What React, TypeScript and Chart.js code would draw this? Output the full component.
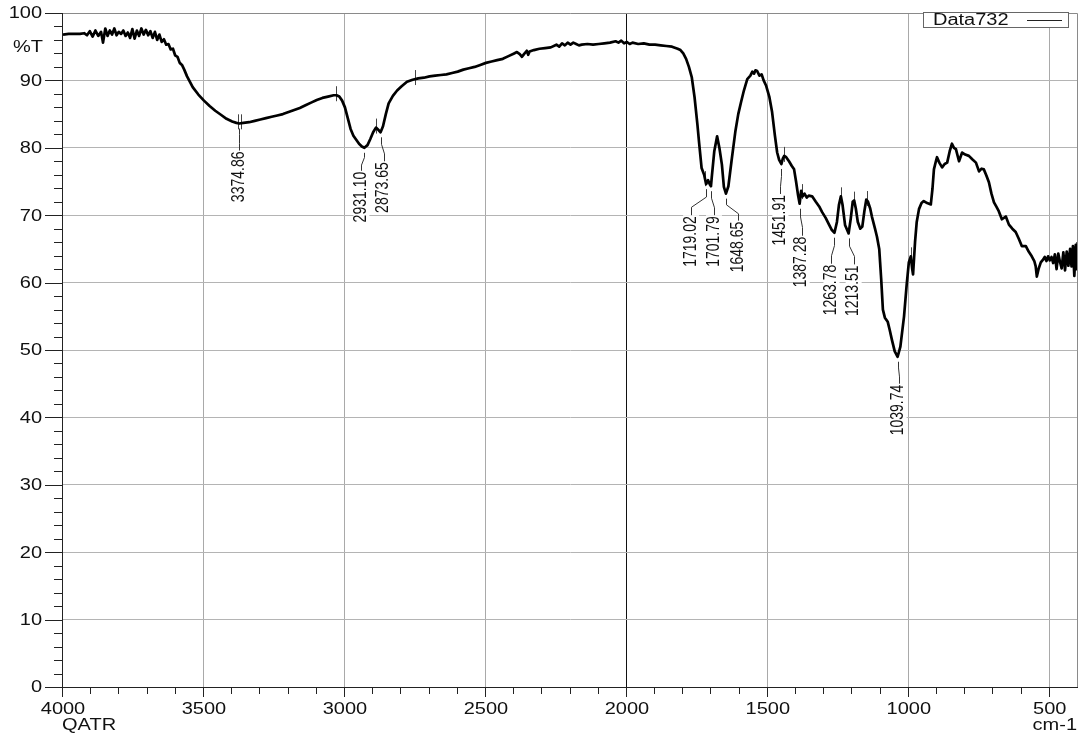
import React, { useEffect, useRef } from "react";
import { Chart, registerables } from "chart.js";

Chart.register(...registerables);

// ---- Spectrum data: [wavenumber (cm-1), %T] ----
const regionHighFreq: number[][] = [
  [4000, 96.8], [3980, 96.9], [3960, 96.9], [3940, 96.9], [3925, 97.0], [3915, 96.7], [3905, 97.3],
  [3895, 96.5], [3885, 97.4], [3875, 96.6], [3865, 97.2], [3858, 95.6], [3850, 97.7], [3842, 96.6],
  [3834, 97.4], [3826, 96.8], [3818, 97.7], [3810, 96.7], [3802, 97.2], [3794, 96.9], [3786, 97.4],
  [3778, 96.6], [3770, 97.1], [3762, 96.3], [3754, 97.6], [3746, 96.2], [3738, 97.4], [3730, 96.6],
  [3722, 97.7], [3714, 96.8], [3706, 97.5], [3698, 96.7], [3690, 97.3], [3682, 96.3], [3674, 97.2],
  [3666, 96.0], [3658, 96.8], [3650, 95.7], [3642, 96.1], [3634, 95.3], [3626, 95.4], [3618, 94.6],
  [3610, 94.7], [3602, 93.7], [3594, 93.5], [3586, 92.6], [3578, 92.3], [3570, 91.6], [3560, 90.6],
];
const regionOHCH: number[][] = [
  [3540, 89.0], [3520, 87.9], [3500, 87.0], [3480, 86.2], [3460, 85.5], [3440, 84.9], [3420, 84.3],
  [3400, 83.9], [3385, 83.7], [3374.86, 83.6], [3360, 83.7], [3340, 83.8], [3320, 84.0], [3300, 84.2],
  [3280, 84.4], [3260, 84.6], [3240, 84.8], [3220, 85.0], [3200, 85.3], [3180, 85.6], [3160, 85.9],
  [3140, 86.3], [3120, 86.7], [3100, 87.1], [3080, 87.4], [3060, 87.6], [3040, 87.8], [3030, 87.8],
  [3020, 87.6], [3010, 87.0], [3000, 86.0], [2990, 84.4], [2980, 82.8], [2970, 81.8], [2960, 81.2],
  [2950, 80.6], [2940, 80.2], [2931.1, 80.0], [2920, 80.4], [2910, 81.3], [2900, 82.3], [2890, 83.0],
  [2880, 82.6], [2873.65, 82.3], [2865, 83.2], [2855, 85.0], [2845, 86.6], [2830, 87.7], [2815, 88.5],
  [2800, 89.1],
];
const regionPlateau: number[][] = [
  [2780, 89.8], [2760, 90.1], [2740, 90.3], [2720, 90.4], [2700, 90.6], [2680, 90.7], [2660, 90.8],
  [2640, 90.9], [2620, 91.1], [2600, 91.3], [2580, 91.6], [2560, 91.8], [2540, 92.0], [2520, 92.3],
  [2500, 92.6], [2480, 92.8], [2460, 93.0], [2440, 93.2], [2420, 93.6], [2400, 94.0], [2390, 94.2],
  [2380, 93.9], [2372, 93.5], [2365, 93.9], [2355, 94.4], [2350, 93.8], [2345, 94.3], [2330, 94.5],
  [2310, 94.7], [2290, 94.8], [2270, 94.9], [2250, 95.3], [2240, 95.0], [2230, 95.5], [2220, 95.2],
  [2210, 95.6], [2200, 95.3], [2190, 95.6], [2180, 95.4], [2170, 95.2], [2160, 95.3], [2140, 95.4],
  [2120, 95.3], [2100, 95.4], [2080, 95.5], [2060, 95.6], [2040, 95.8], [2030, 95.6], [2020, 95.9],
  [2010, 95.5], [2000, 95.7], [1990, 95.4], [1980, 95.6], [1960, 95.4], [1940, 95.5], [1920, 95.3],
  [1900, 95.3], [1880, 95.2], [1860, 95.1], [1840, 95.0], [1820, 94.7], [1810, 94.5],
];
const regionCarbonyl: number[][] = [
  [1800, 94.0], [1790, 93.2], [1780, 92.0], [1770, 90.5], [1760, 87.5], [1750, 83.5], [1744, 80.8],
  [1735, 77.0], [1726, 76.0], [1719.02, 74.6], [1712, 75.2], [1705, 74.5], [1701.79, 74.3], [1699, 75.6],
  [1690, 79.5], [1680, 81.7], [1672, 80.0], [1663, 77.5], [1656, 74.2], [1648.65, 73.2], [1640, 74.3],
  [1629, 78.0], [1615, 82.5], [1605, 85.0], [1595, 86.8], [1585, 88.5], [1573, 90.2], [1562, 90.7],
  [1555, 91.3], [1549, 91.0], [1544, 91.5], [1538, 91.4], [1530, 90.7], [1522, 90.9], [1515, 90.0],
  [1506, 89.2], [1495, 87.6], [1485, 85.3], [1475, 81.8], [1467, 79.3], [1460, 78.2], [1451.91, 77.6],
  [1447, 78.4], [1442, 78.8], [1435, 78.6], [1425, 78.0], [1415, 77.3], [1407, 76.8], [1400, 75.0],
  [1393, 73.0], [1387.28, 71.7], [1382, 73.6],
];
const regionFingerprint: number[][] = [
  [1377, 72.8], [1370, 73.2], [1362, 72.6], [1355, 72.9], [1343, 72.8], [1330, 72.0], [1318, 71.3],
  [1308, 70.5], [1295, 69.6], [1283, 68.6], [1273, 67.8], [1263.78, 67.4], [1255, 69.0], [1248, 71.5],
  [1241, 72.8], [1235, 71.5], [1226, 68.5], [1213.51, 67.3], [1206, 69.5], [1199, 72.0], [1194, 72.2],
  [1188, 71.0], [1181, 69.0], [1172, 68.0], [1165, 68.3], [1158, 70.5], [1151, 72.3], [1145, 72.0],
  [1137, 71.0], [1131, 69.8], [1120, 68.0], [1113, 66.8], [1105, 65.0], [1098, 60.5], [1092, 56.0],
  [1085, 54.8], [1075, 54.2], [1068, 53.0], [1060, 51.5], [1050, 49.8], [1039.74, 49.0], [1030, 50.5],
  [1017, 55.0], [1008, 59.5], [1000, 63.0], [993, 63.9], [988, 62.0], [985, 61.2], [978, 66.0],
  [972, 69.0], [964, 70.9],
];
const regionLowFreq: number[][] = [
  [955, 71.8], [947, 72.1], [935, 71.8], [922, 71.6], [916, 74.0], [911, 76.8], [904, 78.0], [900, 78.6],
  [892, 77.8], [882, 77.1], [873, 77.6], [864, 77.8], [855, 79.5], [847, 80.6], [840, 80.0], [833, 79.8],
  [822, 78.0], [811, 79.3], [800, 79.0], [787, 78.8], [775, 78.3], [762, 77.8], [751, 76.5], [742, 76.9],
  [734, 76.8], [725, 75.9], [716, 74.9], [707, 73.2], [698, 71.9], [690, 71.3], [681, 70.6], [670, 69.4],
  [656, 69.8], [645, 68.6], [633, 68.0], [621, 67.5], [610, 66.5], [599, 65.4], [585, 65.4], [575, 64.6],
  [564, 63.9], [555, 63.2], [550, 62.4], [546, 60.9], [540, 62.0], [532, 63.0], [524, 63.4], [518, 63.8],
  [512, 63.2], [506, 63.9], [500, 63.3], [494, 63.8], [488, 62.9], [482, 64.2], [476, 62.0], [470, 64.3],
  [464, 63.1], [458, 62.1], [452, 64.5], [446, 61.8], [440, 64.6], [434, 62.5], [428, 65.0], [423, 62.4],
  [418, 65.4], [413, 61.0], [408, 65.6], [404, 62.0], [401, 66.0],
];

const xTickLabels = [4000, 3500, 3000, 2500, 2000, 1500, 1000, 500];
const yTickLabels = [0, 10, 20, 30, 40, 50, 60, 70, 80, 90, 100];
const peakWavenumbers = [3374.86, 2931.1, 2873.65, 1719.02, 1701.79, 1648.65, 1451.91, 1387.28, 1263.78, 1213.51, 1039.74];
const baselineMarks = [3378, 3370, 3030, 2890, 2750, 1722, 1697, 1442, 1380, 1241, 1195, 1150, 993];
const legendLabel = "Data732";
const yAxisTitle = "%T";
const xAxisTitle = "cm-1";
const modeLabel = "QATR";

// layout of the peak annotations: [x shift of label, distance from curve to label end]
const peakLabelLayout = [
  [0, 28], [-3, 24], [3, 30], [-15, 32], [3, 30], [12, 28], [-1, 31], [2, 33], [-3, 32], [5, 32], [1, 28],
];

const allPairs = [
  ...regionHighFreq, ...regionOHCH, ...regionPlateau, ...regionCarbonyl, ...regionFingerprint, ...regionLowFreq,
];

function interpT(wn: number): number {
  for (let i = 0; i < allPairs.length - 1; i++) {
    const [x0, y0] = allPairs[i];
    const [x1, y1] = allPairs[i + 1];
    if (wn <= x0 && wn >= x1) {
      const t = x0 === x1 ? 0 : (x0 - wn) / (x0 - x1);
      return y0 + (y1 - y0) * t;
    }
  }
  return allPairs[allPairs.length - 1][1];
}

const FONT = "'Liberation Sans', Arial, Helvetica, sans-serif";
const SX = 1.25;

function stretchText(ctx: CanvasRenderingContext2D, text: string, x: number, y: number, align: CanvasTextAlign, size: number) {
  ctx.save();
  ctx.translate(x, y);
  ctx.scale(SX, 1);
  ctx.font = `${size}px ${FONT}`;
  ctx.textAlign = align;
  ctx.textBaseline = "middle";
  ctx.fillStyle = "#111";
  ctx.fillText(text, 0, 0);
  ctx.restore();
}

const decorPlugin = {
  id: "irDecor",
  beforeDatasetsDraw(chart: any) {
    const ctx: CanvasRenderingContext2D = chart.ctx;
    const xs = chart.scales.x;
    const ys = chart.scales.y;
    ctx.save();
    peakWavenumbers.forEach((wn, i) => {
      const px = xs.getPixelForValue(wn);
      const py = ys.getPixelForValue(interpT(wn));
      const [dx, gap] = peakLabelLayout[i];
      const label = wn.toFixed(2);
      const tx = px + dx;
      const top = py + gap;
      ctx.font = `14px ${FONT}`;
      const w = ctx.measureText(label).width;
      ctx.fillStyle = "#fff";
      ctx.fillRect(tx - 8, top - 1, 16, w + 3);
      ctx.strokeStyle = "#333";
      ctx.lineWidth = 1;
      ctx.beginPath();
      ctx.moveTo(Math.round(px) + 0.5, py + 5);
      ctx.lineTo(Math.round(px) + 0.5, py + gap * 0.4);
      ctx.lineTo(Math.round(tx) + 0.5, py + gap * 0.72);
      ctx.lineTo(Math.round(tx) + 0.5, top - 1);
      ctx.stroke();
      ctx.save();
      ctx.translate(tx, top);
      ctx.rotate(-Math.PI / 2);
      ctx.scale(1, SX);
      ctx.fillStyle = "#111";
      ctx.textAlign = "right";
      ctx.textBaseline = "middle";
      ctx.fillText(label, 0, 0);
      ctx.restore();
    });
    ctx.strokeStyle = "#444";
    ctx.lineWidth = 1;
    baselineMarks.forEach((wn) => {
      const px = Math.round(xs.getPixelForValue(wn)) + 0.5;
      const py = ys.getPixelForValue(interpT(wn));
      ctx.beginPath();
      ctx.moveTo(px, py - 9);
      ctx.lineTo(px, py + 6);
      ctx.stroke();
    });
    ctx.restore();
  },
  afterDatasetsDraw(chart: any) {
    const ctx: CanvasRenderingContext2D = chart.ctx;
    const xs = chart.scales.x;
    const ys = chart.scales.y;
    const { left, right, top, bottom } = chart.chartArea;
    ctx.save();
    // frame
    ctx.lineWidth = 1;
    ctx.strokeStyle = "#8a8a8a";
    ctx.beginPath();
    ctx.moveTo(left, top + 0.5);
    ctx.lineTo(right - 0.5, top + 0.5);
    ctx.lineTo(right - 0.5, bottom);
    ctx.stroke();
    ctx.strokeStyle = "#222";
    ctx.beginPath();
    ctx.moveTo(left - 0.5, top);
    ctx.lineTo(left - 0.5, bottom + 0.5);
    ctx.lineTo(right, bottom + 0.5);
    ctx.stroke();
    // y ticks
    for (let v = 0; v <= 100; v += 2) {
      const py = Math.round(ys.getPixelForValue(v)) + 0.5;
      const len = v % 10 === 0 ? 18 : 9;
      ctx.beginPath();
      ctx.moveTo(left - len, py);
      ctx.lineTo(left, py);
      ctx.stroke();
    }
    yTickLabels.forEach((v) => {
      stretchText(ctx, String(v), left - 21, ys.getPixelForValue(v) + 1, "right", 16);
    });
    stretchText(ctx, yAxisTitle, 13, 48, "left", 16);
    // x ticks
    for (let v = 500; v <= 4000; v += 100) {
      const px = Math.round(xs.getPixelForValue(v)) - 0.5;
      const len = v % 500 === 0 ? 10 : 7;
      ctx.beginPath();
      ctx.moveTo(px, bottom);
      ctx.lineTo(px, bottom + len);
      ctx.stroke();
    }
    xTickLabels.forEach((v) => {
      stretchText(ctx, String(v), xs.getPixelForValue(v), bottom + 23, "center", 16);
    });
    stretchText(ctx, modeLabel, left - 1, bottom + 39, "left", 16);
    stretchText(ctx, xAxisTitle, right - 1, bottom + 39, "right", 16);
    // legend
    ctx.fillStyle = "#fff";
    ctx.fillRect(923.5, 12.5, 145, 15);
    ctx.strokeStyle = "#666";
    ctx.strokeRect(923.5, 12.5, 145, 15);
    stretchText(ctx, legendLabel, 933, 20.5, "left", 16);
    ctx.strokeStyle = "#222";
    ctx.beginPath();
    ctx.moveTo(1027, 20.5);
    ctx.lineTo(1062, 20.5);
    ctx.stroke();
    ctx.restore();
  },
};

export default function App() {
  const ref = useRef<HTMLCanvasElement>(null);
  useEffect(() => {
    document.body.style.margin = "0";
    const canvas = ref.current;
    if (!canvas) return;
    const chart = new Chart(canvas, {
      type: "scatter",
      data: {
        datasets: [
          {
            label: legendLabel,
            data: allPairs.map(([x, y]) => ({ x, y })),
            showLine: true,
            borderColor: "#000",
            borderWidth: 2.7,
            pointRadius: 0,
            tension: 0,
            borderJoinStyle: "round",
          } as any,
        ],
      },
      options: {
        responsive: false,
        animation: false,
        events: [],
        layout: { padding: { top: 13, right: 3, left: 0, bottom: 0 } },
        plugins: { legend: { display: false }, tooltip: { enabled: false } },
        scales: {
          x: {
            type: "linear",
            reverse: true,
            min: 400,
            max: 4000,
            ticks: { display: false, stepSize: 100 },
            grid: {
              drawTicks: false,
              lineWidth: 1,
              color: (c: any) => {
                const v = Math.round(c.tick?.value ?? 0);
                if (v === 2000) return "#111";
                if (v % 500 === 0 && v !== 4000) return "#a9a9a9";
                return "rgba(0,0,0,0)";
              },
            },
            border: { display: false },
            afterFit: (s: any) => {
              s.height = 46;
            },
          },
          y: {
            type: "linear",
            min: 0,
            max: 100,
            ticks: { display: false, stepSize: 10 },
            grid: {
              drawTicks: false,
              lineWidth: 1,
              color: (c: any) => {
                const v = Math.round(c.tick?.value ?? 0);
                if (v === 0 || v === 100) return "rgba(0,0,0,0)";
                return "#b4b4b4";
              },
            },
            border: { display: false },
            afterFit: (s: any) => {
              s.width = 63;
            },
          },
        },
      },
      plugins: [decorPlugin],
    });
    return () => chart.destroy();
  }, []);
  return (
    <div style={{ position: "absolute", left: 0, top: 0, width: 1081, height: 733, background: "#fff" }}>
      <canvas ref={ref} width={1081} height={733} style={{ display: "block" }} />
    </div>
  );
}
